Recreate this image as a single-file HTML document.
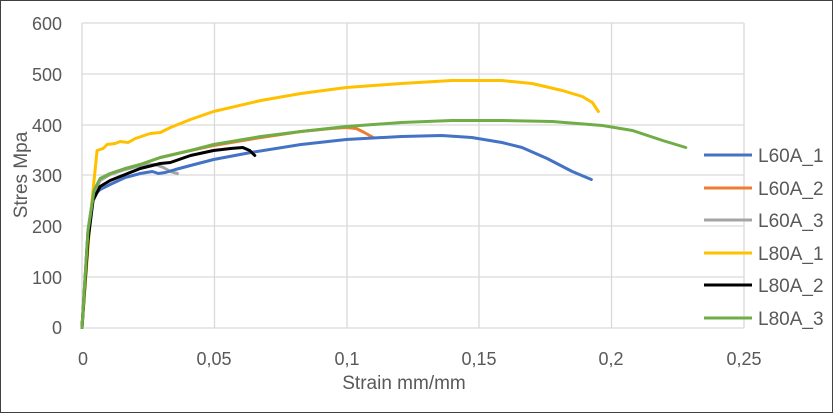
<!DOCTYPE html>
<html><head><meta charset="utf-8"><style>body{margin:0;background:#fff}svg{display:block}text{font-family:"Liberation Sans",sans-serif;fill:#595959}</style></head><body>
<svg width="833" height="413" viewBox="0 0 833 413" xmlns="http://www.w3.org/2000/svg">
<rect x="0.5" y="0.5" width="832" height="412" fill="#fff" stroke="#404040"/>
<g stroke="#d9d9d9" stroke-width="1.3">
<line x1="82" y1="23" x2="744" y2="23"/><line x1="82" y1="74" x2="744" y2="74"/><line x1="82" y1="125" x2="744" y2="125"/><line x1="82" y1="175" x2="744" y2="175"/><line x1="82" y1="226" x2="744" y2="226"/><line x1="82" y1="277" x2="744" y2="277"/><line x1="82" y1="328" x2="744" y2="328"/>
<line x1="82" y1="23" x2="82" y2="328"/><line x1="214.5" y1="23" x2="214.5" y2="328"/><line x1="347" y1="23" x2="347" y2="328"/><line x1="479" y1="23" x2="479" y2="328"/><line x1="611.5" y1="23" x2="611.5" y2="328"/><line x1="744" y1="23" x2="744" y2="328"/>
</g>
<g font-size="18" text-anchor="end">
<text x="62" y="30">600</text><text x="62" y="81">500</text><text x="62" y="132">400</text><text x="62" y="182">300</text><text x="62" y="233">200</text><text x="62" y="284">100</text><text x="62" y="334">0</text>
</g>
<g font-size="18" text-anchor="middle">
<text x="83" y="365">0</text><text x="214" y="365">0,05</text><text x="347" y="365">0,1</text><text x="479" y="365">0,15</text><text x="611" y="365">0,2</text><text x="744" y="365">0,25</text>
<text x="404" y="389" font-size="19">Strain mm/mm</text>
<text transform="translate(27,175) rotate(-90)" font-size="19">Stres Mpa</text>
</g>
<g fill="none" stroke-width="3" stroke-linejoin="round" stroke-linecap="round" transform="matrix(1.0046,0,0,1,-0.38,0.5)">
<polyline stroke="#ed7d31" points="82,327 88,232 94,191 100,179 110,174 125,168 140,164 160,157 190,150 213,145 260,137 300,131 330,128 345,127 355,128 363,132 372,137"/>
<polyline stroke="#a5a5a5" points="82,327 88,232 94,192 100,180 110,174 125,169 140,165 155,164 163,167 170,171 177,173"/>
<polyline stroke="#4472c4" points="82,327 88,230 93,196 100,189 110,184 125,177 140,173 152,171 158,173 165,172 175,169 190,165 213,159 250,152 300,144 345,139 400,136 440,135 470,137 500,142 520,147 545,158 570,171 589,179"/>
<polyline stroke="#ffc000" points="82,327 90,220 97,150 103,148 107,144 115,143 120,141 128,142 135,138 150,133 160,132 170,127 190,119 213,111 260,100 300,93 345,87 400,83 450,80 500,80 530,83 560,90 580,96 590,102 596,111"/>
<polyline stroke="#000000" points="82,327 88,240 93,200 100,186 110,180 125,174 140,168 160,163 170,162 190,155 213,150 230,148 242,147 249,150 254,155"/>
<polyline stroke="#70ad47" points="82,327 88,230 94,190 100,178 110,173 125,168 140,164 160,157 190,150 213,144 260,136 300,131 345,126 400,122 450,120 500,120 550,121 600,125 630,130 660,140 683,147"/>
</g>
<g stroke-width="3">
<line x1="704" y1="155" x2="752" y2="155" stroke="#4472c4"/>
<line x1="704" y1="188" x2="752" y2="188" stroke="#ed7d31"/>
<line x1="704" y1="220" x2="752" y2="220" stroke="#a5a5a5"/>
<line x1="704" y1="253" x2="752" y2="253" stroke="#ffc000"/>
<line x1="704" y1="285" x2="752" y2="285" stroke="#000"/>
<line x1="704" y1="318" x2="752" y2="318" stroke="#70ad47"/>
</g>
<g font-size="19">
<text x="758" y="162">L60A_1</text><text x="758" y="195">L60A_2</text><text x="758" y="227">L60A_3</text><text x="758" y="260">L80A_1</text><text x="758" y="292">L80A_2</text><text x="758" y="325">L80A_3</text>
</g>
</svg>
</body></html>
